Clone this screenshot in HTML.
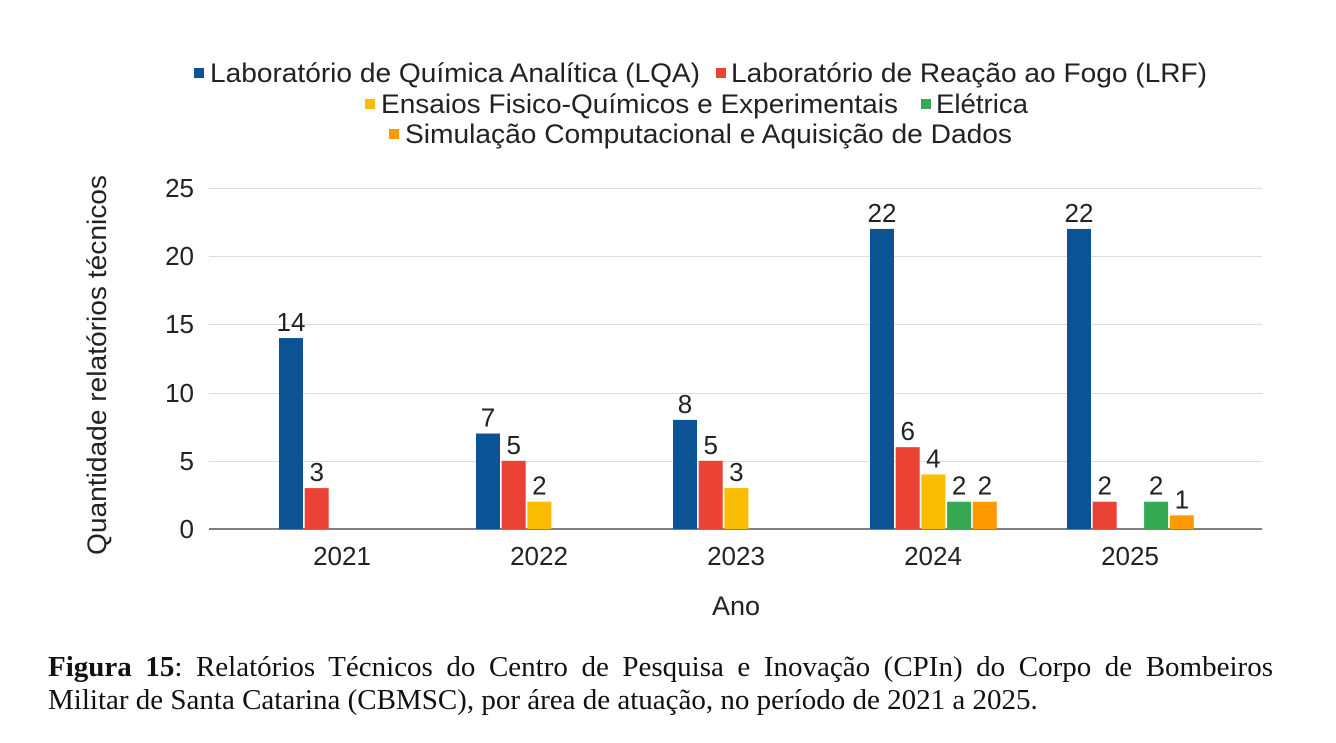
<!DOCTYPE html>
<html><head><meta charset="utf-8"><style>
body{margin:0;background:#fff;width:1336px;height:743px;overflow:hidden}
svg text{font-family:"Liberation Sans",sans-serif;fill:#222}
.cap{position:absolute;left:48px;top:651px;width:1225px;font-family:"Liberation Serif",serif;font-size:29px;line-height:33px;color:#111}
.l1{text-align:justify;text-align-last:justify;white-space:nowrap}
</style></head><body>
<svg width="1336" height="743" style="position:absolute;left:0;top:0">
<g font-size="27">
<rect x="194" y="68" width="10" height="10" fill="#0b5394"/><text x="210" y="82" textLength="490" lengthAdjust="spacingAndGlyphs">Laboratório de Química Analítica (LQA)</text>
<rect x="716" y="68" width="10" height="10" fill="#ea4335"/><text x="731" y="82" textLength="476" lengthAdjust="spacingAndGlyphs">Laboratório de Reação ao Fogo (LRF)</text>
<rect x="365" y="99" width="10" height="10" fill="#fbbc04"/><text x="381" y="113" textLength="517" lengthAdjust="spacingAndGlyphs">Ensaios Fisico-Químicos e Experimentais</text>
<rect x="921" y="99" width="10" height="10" fill="#34a853"/><text x="936" y="113" textLength="92" lengthAdjust="spacingAndGlyphs">Elétrica</text>
<rect x="389" y="129" width="10" height="10" fill="#ff9900"/><text x="405" y="143" textLength="607" lengthAdjust="spacingAndGlyphs">Simulação Computacional e Aquisição de Dados</text>
</g>
<g stroke="#ddd" stroke-width="1">
<line x1="209" x2="1262" y1="188.5" y2="188.5"/><line x1="209" x2="1262" y1="256.5" y2="256.5"/>
<line x1="209" x2="1262" y1="324.5" y2="324.5"/><line x1="209" x2="1262" y1="393.5" y2="393.5"/>
<line x1="209" x2="1262" y1="461.5" y2="461.5"/>
</g>
<line x1="209" x2="1262" y1="529" y2="529" stroke="#333" stroke-width="1.2"/>
<g font-size="26" text-anchor="end">
<text x="194" y="197">25</text><text x="194" y="265">20</text><text x="194" y="333">15</text>
<text x="194" y="402">10</text><text x="194" y="470">5</text><text x="194" y="538">0</text>
</g>
<text transform="translate(106,365) rotate(-90)" text-anchor="middle" font-size="27" textLength="380" lengthAdjust="spacingAndGlyphs">Quantidade relatórios técnicos</text>
<g font-size="26" text-anchor="middle">
<text x="342" y="565">2021</text><text x="539" y="565">2022</text><text x="736" y="565">2023</text>
<text x="933" y="565">2024</text><text x="1130" y="565">2025</text>
<text x="736" y="615" font-size="27">Ano</text>
</g>
<g id="bars"></g>
<g id="lbl" font-size="26" text-anchor="middle"></g>
</svg>
<script>
var cols=["#0b5394","#ea4335","#fbbc04","#34a853","#ff9900"];
var data=[[14,3,0,0,0],[7,5,2,0,0],[8,5,3,0,0],[22,6,4,2,2],[22,2,0,2,1]];
var starts=[279,476,673,870,1067];
var b=document.getElementById("bars"),l=document.getElementById("lbl"),ns="http://www.w3.org/2000/svg";
data.forEach(function(g,i){g.forEach(function(v,j){if(!v)return;var x=starts[i]+j*25.7,h=v*13.64;
var r=document.createElementNS(ns,"rect");r.setAttribute("x",x);r.setAttribute("y",529-h);r.setAttribute("width",24);r.setAttribute("height",h);r.setAttribute("fill",cols[j]);b.appendChild(r);
var t=document.createElementNS(ns,"text");t.setAttribute("x",x+12);t.setAttribute("y",529-h-7);t.textContent=v;l.appendChild(t);});});
</script>
<div class="cap"><div class="l1"><b>Figura 15</b>: Relatórios Técnicos do Centro de Pesquisa e Inovação (CPIn) do Corpo de Bombeiros</div><div>Militar de Santa Catarina (CBMSC), por área de atuação, no período de 2021 a 2025.</div></div>
</body></html>
